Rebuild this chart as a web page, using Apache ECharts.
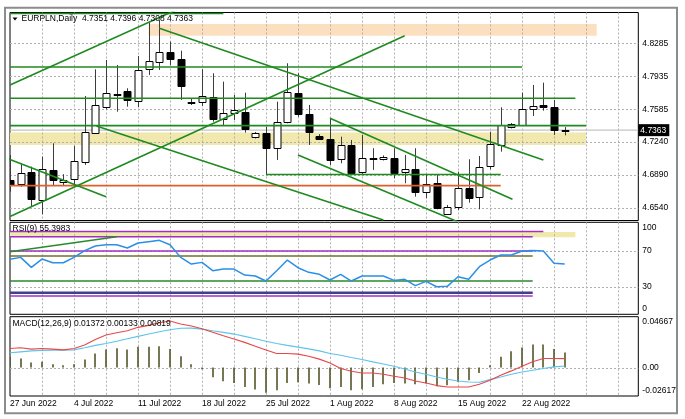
<!DOCTYPE html>
<html><head><meta charset="utf-8">
<script src="https://cdn.jsdelivr.net/npm/echarts@6/dist/echarts.min.js"></script>
<style>html,body{margin:0;padding:0;background:#fff}#c{width:685px;height:419px}</style>
</head><body><div id="c"></div>
<script>
// ---------- data ----------
const headerText = 'EURPLN,Daily  4.7351 4.7396 4.7308 4.7363';
const rsiTitle = 'RSI(9) 55.3983';
const macdTitle = 'MACD(12,26,9) 0.01372 0.00133 0.00819';
const dateLabels = ['27 Jun 2022','4 Jul 2022','11 Jul 2022','18 Jul 2022','25 Jul 2022','1 Aug 2022','8 Aug 2022','15 Aug 2022','22 Aug 2022'];
const barsPerLabel = 6;
const barsPerGridLine = 3;
const openP  = [4.6834,4.6792,4.6916,4.6622,4.6941,4.6813,4.6842,4.7029,4.7337,4.7612,4.7742,4.7782,4.7676,4.8009,4.8084,4.8196,4.8116,4.7666,4.7659,4.7719,4.7479,4.7542,4.7559,4.7288,4.7330,4.7171,4.7447,4.7755,4.7535,4.7305,4.7270,4.7054,4.7206,4.6916,4.7063,4.7054,4.7071,4.6916,4.6948,4.6710,4.6799,4.6470,4.6551,4.6746,4.6651,4.6983,4.7206,4.7394,4.7418,4.7585,4.7627,4.7606,4.7351];
const highP  = [4.7099,4.7012,4.6976,4.7082,4.7224,4.6895,4.7195,4.7726,4.8009,4.8108,4.8055,4.7808,4.8151,4.8504,4.8533,4.8302,4.8207,4.7700,4.8009,4.7967,4.7878,4.7737,4.7761,4.7344,4.7400,4.7666,4.8073,4.7967,4.7631,4.7320,4.7489,4.7294,4.7259,4.7312,4.7171,4.7095,4.7171,4.7100,4.7171,4.6888,4.6888,4.6569,4.6922,4.7054,4.7089,4.7347,4.7606,4.7439,4.7761,4.7843,4.7867,4.7684,4.7396];
const lowP   = [4.6710,4.6763,4.6551,4.6470,4.6781,4.6781,4.6763,4.6994,4.7330,4.7585,4.7559,4.7612,4.7606,4.7949,4.8002,4.8055,4.7684,4.7630,4.7620,4.7453,4.7418,4.7471,4.7337,4.7275,4.6888,4.7047,4.7436,4.7506,4.7206,4.7259,4.6994,4.7012,4.6888,4.6888,4.6941,4.7041,4.6853,4.6799,4.6657,4.6640,4.6523,4.6463,4.6516,4.6594,4.6523,4.6948,4.7135,4.7381,4.7408,4.7514,4.7570,4.7312,4.7308];
const closeP = [4.6781,4.6912,4.6633,4.6948,4.6835,4.6829,4.7036,4.7341,4.7631,4.7755,4.7731,4.7684,4.8002,4.8098,4.8190,4.8119,4.7832,4.7655,4.7726,4.7479,4.7549,4.7577,4.7376,4.7330,4.7171,4.7447,4.7765,4.7532,4.7347,4.7270,4.7047,4.7206,4.6912,4.7065,4.7068,4.7082,4.6912,4.6948,4.6710,4.6789,4.6534,4.6551,4.6746,4.6646,4.6976,4.7213,4.7415,4.7426,4.7585,4.7623,4.7606,4.7365,4.7363];
const rsiValues = [60.7,62.9,51.7,61.0,56.9,56.9,62.9,70.4,75.6,77.1,77.1,73.4,79.0,80.5,82.0,77.1,62.9,55.4,57.3,48.0,49.8,49.8,43.1,42.0,36.4,48.0,59.9,51.3,46.1,43.9,37.5,43.9,36.4,42.0,42.0,42.0,37.1,38.3,31.2,36.0,30.0,30.4,41.2,38.3,52.4,59.9,65.5,65.5,70.0,70.7,70.0,56.2,55.4];
const macdHist = [0.0098,0.0083,0.0046,0.0052,0.0030,0.0021,0.0030,0.0074,0.0129,0.0166,0.0178,0.0166,0.0190,0.0190,0.0196,0.0171,0.0104,0.0030,-0.0016,-0.0089,-0.0126,-0.0142,-0.0179,-0.0203,-0.0231,-0.0209,-0.0142,-0.0136,-0.0148,-0.0160,-0.0191,-0.0179,-0.0209,-0.0200,-0.0179,-0.0154,-0.0142,-0.0148,-0.0154,-0.0148,-0.0172,-0.0163,-0.0133,-0.0117,-0.0050,0.0021,0.0098,0.0150,0.0184,0.0212,0.0212,0.0171,0.01372];
const macdRed = [0.0175,0.0181,0.0169,0.0175,0.0169,0.0162,0.0175,0.0206,0.0258,0.0298,0.0319,0.0337,0.0369,0.0387,0.0411,0.0427,0.0399,0.0381,0.0356,0.0323,0.0291,0.0261,0.0231,0.0196,0.0160,0.0129,0.0129,0.0123,0.0104,0.0077,0.0042,-0.0009,-0.0034,-0.0050,-0.0050,-0.0062,-0.0080,-0.0096,-0.0124,-0.0142,-0.0166,-0.0179,-0.0179,-0.0179,-0.0154,-0.0117,-0.0071,-0.0031,0.0012,0.0052,0.0083,0.0083,0.00819];
const macdBlue = [0.0135,0.0144,0.0153,0.0157,0.0160,0.0160,0.0162,0.0181,0.0203,0.0221,0.0242,0.0264,0.0286,0.0307,0.0328,0.0347,0.0360,0.0362,0.0353,0.0337,0.0323,0.0307,0.0286,0.0264,0.0242,0.0221,0.0203,0.0187,0.0171,0.0153,0.0129,0.0113,0.0092,0.0074,0.0052,0.0033,0.0012,-0.0013,-0.0041,-0.0062,-0.0087,-0.0108,-0.0124,-0.0133,-0.0136,-0.0111,-0.0087,-0.0062,-0.0041,-0.0025,-0.0009,0.0006,0.00133];
const priceTicks = [4.6540,4.6890,4.7240,4.7585,4.7935,4.8285];
const rsiLabelTicks = [0,30,70,100];
const rsiGridTicks = [30,70];
const macdLabelTicks = [-0.02617,0,0.04667];
const macdGridTicks = [0];
const bidPrice = 4.7363;
const priceRange = [4.6404,4.8612];
const rsiRange = [-0.9,102.2];
const macdRange = [-0.02617,0.04667];
const barRange = [0,58.9];
// user-drawn objects, in [bar, value] chart coordinates
const peachBand = [13,55,4.8366,4.8490];
const khakiBand = [0,54,4.7206,4.7337];
const greenLevels = [[4.8602,0,20],[4.8034,0,48],[4.7702,0,53],[4.7411,0,54],[4.6893,24,46]];
const orangeLevels = [[4.6774,0,46]];
const greenTrends = [
  [[0,4.7843],[16,4.8661]],
  [[0,4.6447],[37,4.8366]],
  [[14,4.8445],[50,4.7047]],
  [[-1,4.7096],[9,4.6657]],
  [[8.1,4.7408],[35,4.6410]],
  [[30,4.7489],[47.1,4.6630]],
  [[27,4.7100],[42.2,4.6380]]
];
const rsiBand = [0,53,85.4,91.3];
const rsiPurpleLevels = [[91.9,0,50],[86.0,0,49],[70,0,49],[19.6,0,49]];
const rsiOliveLevels = [[64.4,0,49]];
const rsiGreenLevels = [[36.4,0,49]];
const rsiNavyLevels = [[23.3,0,49]];
const rsiTrend = [[0,69.2],[10,86.0]];

// ---------- chart ----------
const FONT = 'Liberation Sans';
const FS = 8.5;
const GRIDCOLOR = '#b0b0b0';
const chart = echarts.init(document.getElementById('c'), null, {renderer:'canvas'});
const gridStyle = {show:true, borderColor:'#000', borderWidth:1, backgroundColor:'#fff'};
const grids = [
  Object.assign({left:10, right:46.7, top:12.5, height:208}, gridStyle),
  Object.assign({left:10, right:46.7, top:222.3, height:92}, gridStyle),
  Object.assign({left:10, right:46.7, top:316.7, height:79.3}, gridStyle)
];
function xAxisFor(g, labels){
  return {type:'value', gridIndex:g, min:barRange[0], max:barRange[1], interval:barsPerGridLine,
    axisLine:{show:false}, axisTick:{show:false}, splitLine:{show:false},
    axisLabel: labels ? {show:true, align:'left', margin:3, color:'#000', fontFamily:FONT, fontSize:FS,
      formatter: v => (Math.abs(v % barsPerLabel) < 1e-6 && v/barsPerLabel < dateLabels.length) ? dateLabels[Math.round(v/barsPerLabel)] : ''} : {show:false}};
}
const labelBase = {color:'#000', fontFamily:FONT, fontSize:FS, margin:4};
const yAxes = [
  {type:'value', gridIndex:0, position:'right', min:priceRange[0], max:priceRange[1], scale:true,
   axisLine:{show:false}, axisTick:{show:false}, splitLine:{show:false},
   axisLabel:Object.assign({customValues:priceTicks, formatter:v=>v.toFixed(4)}, labelBase)},
  {type:'value', gridIndex:1, position:'right', min:rsiRange[0], max:rsiRange[1],
   axisLine:{show:false}, axisTick:{show:false}, splitLine:{show:false},
   axisLabel:Object.assign({customValues:rsiLabelTicks,
     formatter:v=> v===100 ? '{dn|100}' : (v===0 ? '{up|0}' : String(v)),
     rich:{dn:{padding:[7,0,0,0], fontFamily:FONT, fontSize:FS, color:'#000'}, up:{padding:[0,0,9,0], fontFamily:FONT, fontSize:FS, color:'#000'}}}, labelBase)},
  {type:'value', gridIndex:2, position:'right', min:macdRange[0], max:macdRange[1],
   axisLine:{show:false}, axisTick:{show:false}, splitLine:{show:false},
   axisLabel:Object.assign({customValues:macdLabelTicks,
     formatter:v=> v===macdRange[1] ? '{dn|'+v.toFixed(5)+'}' : (v===macdRange[0] ? '{up|'+v.toFixed(5)+'}' : v.toFixed(2)),
     rich:{dn:{padding:[10,0,0,0], fontFamily:FONT, fontSize:FS, color:'#000'}, up:{padding:[0,0,10,0], fontFamily:FONT, fontSize:FS, color:'#000'}}}, labelBase)}
];

const series = [];
// dotted grid (drawn above background bands, below price marks)
const gridBars = [];
for (let b = barRange[0] + barsPerGridLine; b < barRange[1]; b += barsPerGridLine) gridBars.push(b);
function gridSeries(g, yTicks, yMin){
  series.push({type:'custom', xAxisIndex:g, yAxisIndex:g, z:2, silent:true,
    data:gridBars.map(b=>[b, yMin]), encode:{x:0, y:1},
    renderItem:(p, api)=>{
      const cs = p.coordSys; const x = Math.round(api.coord([api.value(0), api.value(1)])[0]) + 0.5;
      return {type:'line', shape:{x1:x, y1:cs.y, x2:x, y2:cs.y+cs.height}, style:{stroke:GRIDCOLOR, lineWidth:1, lineDash:[2,2]}};
    }});
  series.push({type:'custom', xAxisIndex:g, yAxisIndex:g, z:2, silent:true,
    data:yTicks.map(v=>[barRange[0], v]), encode:{x:0, y:1},
    renderItem:(p, api)=>{
      const cs = p.coordSys; const y = Math.round(api.coord([api.value(0), api.value(1)])[1]) + 0.5;
      return {type:'line', shape:{x1:cs.x, y1:y, x2:cs.x+cs.width, y2:y}, style:{stroke:GRIDCOLOR, lineWidth:1, lineDash:[2,2]}};
    }});
}
function bandSeries(g, band, color, z){
  series.push({type:'custom', xAxisIndex:g, yAxisIndex:g, clip:true, z:z, silent:true,
    data:[band], encode:{x:[0,1], y:[2,3]},
    renderItem:(p, api)=>{
      const a = api.coord([api.value(0), api.value(2)]);
      const b = api.coord([api.value(1), api.value(3)]);
      return {type:'rect', shape:{x:Math.min(a[0],b[0]), y:Math.min(a[1],b[1]), width:Math.abs(b[0]-a[0]), height:Math.abs(b[1]-a[1])}, style:{fill:color}};
    }});
}
function levelSeries(g, levels, color, width, z){
  levels.forEach(l => series.push({type:'line', xAxisIndex:g, yAxisIndex:g, data:[[l[1],l[0]],[l[2],l[0]]],
    symbol:'none', silent:true, z:z, lineStyle:{color:color, width:width}}));
}
function trendSeries(g, pts, color, width, z){
  series.push({type:'line', xAxisIndex:g, yAxisIndex:g, data:pts, symbol:'none', silent:true, z:z, lineStyle:{color:color, width:width}});
}

// main panel
bandSeries(0, peachBand, '#fbdfbf', 1);
bandSeries(0, khakiBand, '#f1e8ad', 1);
gridSeries(0, priceTicks, priceRange[0]);
series.push({type:'line', xAxisIndex:0, yAxisIndex:0, data:[[barRange[0],bidPrice],[barRange[1],bidPrice]], symbol:'none', silent:true, z:2,
  lineStyle:{color:'#c4c4c4', width:1.2},
  endLabel:{show:true, formatter:bidPrice.toFixed(4), backgroundColor:'#000', color:'#fff', fontFamily:FONT, fontSize:FS, padding:[2,3,1,2], distance:0}});
const candleData = openP.map((o,i)=>[i,o,highP[i],lowP[i],closeP[i]]);
series.push({type:'custom', xAxisIndex:0, yAxisIndex:0, clip:true, z:3, data:candleData, encode:{x:0, y:[1,2,3,4]},
  renderItem:(p, api)=>{
    const i = api.value(0), o = api.value(1), h = api.value(2), l = api.value(3), c = api.value(4);
    const pO = api.coord([i,o]), pC = api.coord([i,c]), pH = api.coord([i,h]), pL = api.coord([i,l]);
    const x = Math.round(pO[0]) + 0.5;
    const top = Math.round(Math.min(pO[1],pC[1])) + 0.5;
    const bot = Math.round(Math.max(pO[1],pC[1])) + 0.5;
    const bull = c >= o;
    return {type:'group', children:[
      {type:'line', shape:{x1:x, y1:pH[1], x2:x, y2:pL[1]}, style:{stroke:'#3c3c3c', lineWidth:1}},
      {type:'rect', shape:{x:x-3.5, y:top, width:7, height:Math.max(bot-top,1)}, style:{fill:bull?'#fff':'#000', stroke:'#000', lineWidth:1}}
    ]};
  }});
levelSeries(0, orangeLevels, '#e0602c', 1.6, 4);
levelSeries(0, greenLevels, '#1f8a1f', 1.6, 4);
greenTrends.forEach(t => trendSeries(0, t, '#1f8a1f', 1.6, 4));

// RSI panel
bandSeries(1, rsiBand, '#f1e8ad', 1);
gridSeries(1, rsiGridTicks, rsiRange[0]);
levelSeries(1, rsiPurpleLevels, '#a030c8', 1.4, 3);
levelSeries(1, rsiOliveLevels, '#6f7030', 1.4, 3);
levelSeries(1, rsiGreenLevels, '#2a8a2a', 1.4, 3);
levelSeries(1, rsiNavyLevels, '#40408c', 2.4, 3);
trendSeries(1, rsiTrend, '#2a8a2a', 1.4, 3);
series.push({type:'line', xAxisIndex:1, yAxisIndex:1, data:rsiValues.map((v,i)=>[i,v]), symbol:'none', silent:true, z:4,
  lineStyle:{color:'#2b8fe8', width:1.5}});

// MACD panel
gridSeries(2, macdGridTicks, macdRange[0]);
series.push({type:'custom', xAxisIndex:2, yAxisIndex:2, clip:true, z:3, data:macdHist.map((v,i)=>[i,v]), encode:{x:0, y:1},
  renderItem:(p, api)=>{
    const a = api.coord([api.value(0), 0]), b = api.coord([api.value(0), api.value(1)]);
    const x = Math.round(a[0]);
    return {type:'rect', shape:{x:x-0.8, y:Math.min(a[1],b[1]), width:1.6, height:Math.abs(b[1]-a[1])}, style:{fill:'#555528'}};
  }});
series.push({type:'line', xAxisIndex:2, yAxisIndex:2, data:macdBlue.map((v,i)=>[i,v]), symbol:'none', silent:true, z:4, lineStyle:{color:'#5cc4ea', width:1.1}});
series.push({type:'line', xAxisIndex:2, yAxisIndex:2, data:macdRed.map((v,i)=>[i,v]), symbol:'none', silent:true, z:5, lineStyle:{color:'#e8474a', width:1.1}});

const txt = (x, y, s) => ({type:'text', left:x, top:y, z:100, style:{text:s, fill:'#000', font:FS+'px "'+FONT+'"'}});
chart.setOption({
  animation:false,
  backgroundColor:'#fff',
  grid:grids,
  xAxis:[xAxisFor(0,false), xAxisFor(1,false), xAxisFor(2,true)],
  yAxis:yAxes,
  series:series,
  graphic:[
    {type:'rect', shape:{x:5, y:7.7, width:672, height:405.6}, style:{fill:null, stroke:'#8c8c8c', lineWidth:2}, z:100},
    {type:'polygon', shape:{points:[[12.5,17.5],[17.5,17.5],[15,20.5]]}, style:{fill:'#000'}, z:100},
    txt(21.5, 14.5, headerText),
    txt(12.5, 224.5, rsiTitle),
    txt(12.5, 319.5, macdTitle)
  ]
});
</script></body></html>
